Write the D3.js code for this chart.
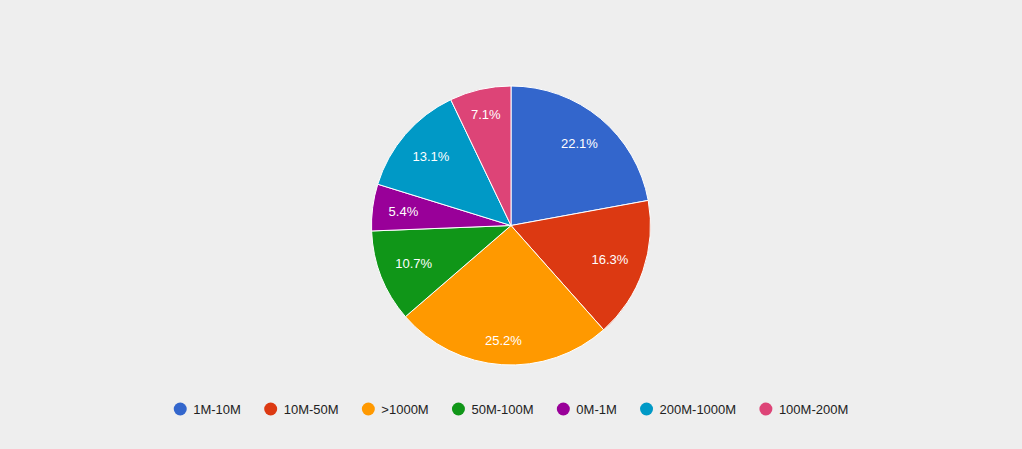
<!DOCTYPE html>
<html>
<head>
<meta charset="utf-8">
<script src="https://cdnjs.cloudflare.com/ajax/libs/d3/7.8.5/d3.min.js"></script>
<style>
  body { margin: 0; background: #eeeeee; }
  svg { display: block; font-family: Arial, "Liberation Sans", sans-serif; }
</style>
</head>
<body>
<div id="chart"></div>
<script>
var categories = ["1M-10M", "10M-50M", ">1000M", "50M-100M", "0M-1M", "200M-1000M", "100M-200M"];
var shares = [22.1, 16.3, 25.2, 10.7, 5.4, 13.1, 7.1];
var colors = ["#3366cc", "#dc3912", "#ff9900", "#109618", "#990099", "#0099c6", "#dd4477"];

var width = 1022, height = 449;
var cx = 511, cy = 225.5, radius = 139.5;
var labelSize = 13;

var svg = d3.select("#chart").append("svg")
    .attr("width", width)
    .attr("height", height);

svg.append("rect").attr("width", width).attr("height", height).attr("fill", "#eeeeee");

var data = categories.map(function(c, i) { return {name: c, value: shares[i], color: colors[i]}; });

var pie = d3.pie().sort(null).value(function(d) { return d.value; });
var arc = d3.arc().innerRadius(0).outerRadius(radius);

var g = svg.append("g").attr("transform", "translate(" + cx + "," + cy + ")");

var slices = g.selectAll("g.slice").data(pie(data)).enter().append("g").attr("class", "slice");

slices.append("path")
    .attr("d", arc)
    .attr("fill", function(d) { return d.data.color; })
    .attr("stroke", "#ffffff")
    .attr("stroke-width", 1);

// labels: push the text box out along the mid angle until its far corner hits outer limit
var outerLimit = radius * 0.89;
slices.append("text")
    .attr("text-anchor", "middle")
    .attr("dy", "0.35em")
    .attr("fill", "#ffffff")
    .style("font-size", labelSize + "px")
    .text(function(d) { return d.data.value.toFixed(1) + "%"; })
    .attr("transform", function(d) {
        var a = (d.startAngle + d.endAngle) / 2;
        var ux = Math.sin(a), uy = -Math.cos(a);
        var w = this.getComputedTextLength();
        var c = [(ux >= 0 ? 1 : -1) * w / 2, (uy >= 0 ? 1 : -1) * labelSize / 2];
        var uc = ux * c[0] + uy * c[1];
        var cc = c[0] * c[0] + c[1] * c[1];
        var t = -uc + Math.sqrt(uc * uc - cc + outerLimit * outerLimit);
        return "translate(" + (t * ux) + "," + (t * uy) + ")";
    });

// legend, laid out from measured text widths and centred
var gap = 23.25;
var legend = svg.append("g");
var x = 0;
data.forEach(function(d) {
    var item = legend.append("g").attr("transform", "translate(" + x + ",0)");
    item.append("circle").attr("cx", 6.5).attr("cy", 0).attr("r", 6.5).attr("fill", d.color);
    var t = item.append("text")
        .attr("x", 19.5)
        .attr("dy", "0.35em")
        .attr("fill", "#222222")
        .style("font-size", "13px")
        .text(d.name);
    x += 19.5 + t.node().getComputedTextLength() + gap;
});
var total = x - gap;
legend.attr("transform", "translate(" + (cx - total / 2) + ",409)");
</script>
</body>
</html>
